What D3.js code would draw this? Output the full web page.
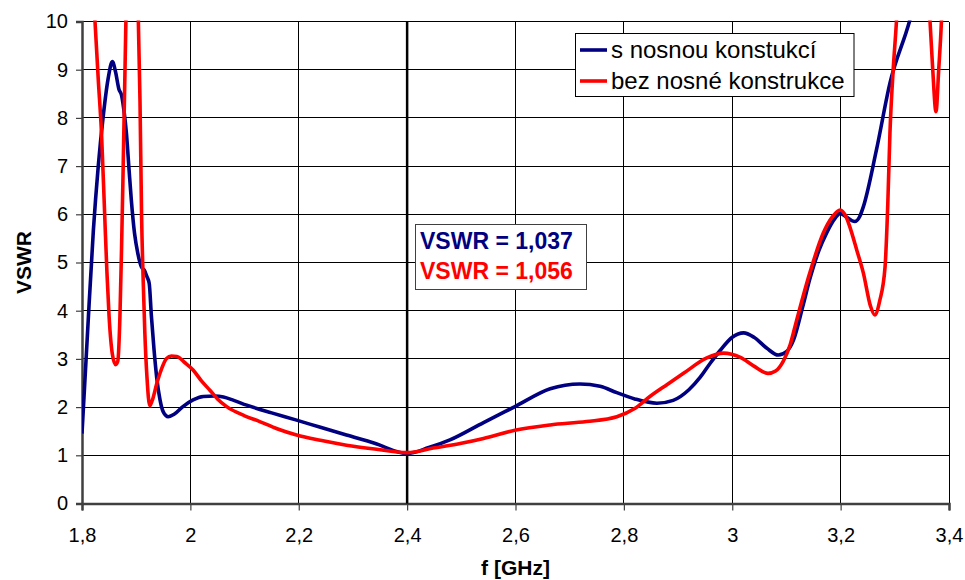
<!DOCTYPE html>
<html>
<head>
<meta charset="utf-8">
<script src="https://cdn.jsdelivr.net/npm/d3@7"></script>
<style>
  html, body { margin: 0; padding: 0; background: #fff; }
  svg { display: block; font-family: "Liberation Sans", Arial, sans-serif; }
</style>
</head>
<body>
<svg id="chart" width="965" height="580"></svg>
<script>
// ---- data ----
const xTicks = [1.8, 2.0, 2.2, 2.4, 2.6, 2.8, 3.0, 3.2, 3.4];
const xTickLabels = ["1,8", "2", "2,2", "2,4", "2,6", "2,8", "3", "3,2", "3,4"];
const yTicks = [0, 1, 2, 3, 4, 5, 6, 7, 8, 9, 10];
const seriesNames = ["s nosnou konstukcí", "bez nosné konstrukce"];
const annotationTexts = ["VSWR = 1,037", "VSWR = 1,056"];
const markerFreq = 2.4;

const blueFreq = [1.800, 1.810, 1.821, 1.830, 1.839, 1.848, 1.856, 1.862, 1.868, 1.873, 1.878, 1.882, 1.887, 1.891, 1.897, 1.903, 1.910, 1.915, 1.920, 1.924, 1.928, 1.933, 1.938, 1.944, 1.950, 1.959, 1.970, 1.985, 2.005, 2.024, 2.045, 2.061, 2.080, 2.104, 2.150, 2.196, 2.240, 2.288, 2.340, 2.400, 2.440, 2.479, 2.541, 2.599, 2.664, 2.719, 2.756, 2.787, 2.820, 2.861, 2.891, 2.920, 2.941, 2.960, 2.978, 3.000, 3.021, 3.040, 3.064, 3.085, 3.100, 3.113, 3.130, 3.143, 3.160, 3.174, 3.190, 3.199, 3.210, 3.226, 3.235, 3.242, 3.266, 3.291, 3.327, 3.360, 3.400];
const blueVswr = [1.45, 3.5, 5.67, 7.0, 8.02, 8.8, 9.17, 8.95, 8.6, 8.47, 8.1, 7.68, 6.9, 6.30, 5.6, 5.19, 4.9, 4.84, 4.7, 4.57, 3.9, 3.18, 2.6, 2.15, 1.9, 1.80, 1.85, 2.0, 2.15, 2.22, 2.23, 2.21, 2.14, 2.04, 1.88, 1.73, 1.58, 1.42, 1.25, 1.037, 1.16, 1.32, 1.68, 2.01, 2.38, 2.48, 2.43, 2.30, 2.17, 2.08, 2.14, 2.36, 2.62, 2.92, 3.18, 3.45, 3.54, 3.45, 3.22, 3.08, 3.15, 3.39, 4.08, 4.65, 5.25, 5.61, 5.92, 6.02, 5.95, 5.85, 5.95, 6.16, 7.33, 8.72, 10.0, 11.5, 13.0];

const redFreq = [1.800, 1.812, 1.824, 1.830, 1.836, 1.842, 1.846, 1.850, 1.856, 1.862, 1.866, 1.870, 1.873, 1.876, 1.881, 1.886, 1.893, 1.900, 1.904, 1.907, 1.910, 1.913, 1.916, 1.920, 1.925, 1.930, 1.938, 1.947, 1.956, 1.965, 1.975, 1.990, 2.005, 2.020, 2.036, 2.050, 2.067, 2.100, 2.128, 2.160, 2.196, 2.240, 2.288, 2.340, 2.400, 2.448, 2.500, 2.541, 2.599, 2.664, 2.731, 2.787, 2.820, 2.848, 2.880, 2.910, 2.953, 2.984, 3.015, 3.040, 3.066, 3.080, 3.094, 3.107, 3.119, 3.143, 3.168, 3.185, 3.199, 3.210, 3.217, 3.230, 3.242, 3.255, 3.263, 3.272, 3.282, 3.287, 3.291, 3.297, 3.303, 3.315, 3.335, 3.355, 3.365, 3.370, 3.376, 3.381, 3.386, 3.393, 3.400];
const redVswr = [14.5, 12.0, 10.0, 8.8, 7.68, 5.95, 4.8, 3.88, 3.1, 2.88, 2.95, 3.88, 5.3, 6.99, 10.0, 13.0, 15.0, 13.0, 10.0, 8.37, 5.95, 4.6, 3.53, 2.6, 2.03, 2.15, 2.49, 2.8, 3.01, 3.06, 3.05, 2.92, 2.77, 2.55, 2.35, 2.17, 2.01, 1.82, 1.70, 1.55, 1.42, 1.31, 1.21, 1.13, 1.056, 1.15, 1.25, 1.35, 1.52, 1.63, 1.70, 1.80, 1.97, 2.22, 2.47, 2.70, 3.02, 3.12, 3.03, 2.85, 2.70, 2.75, 2.95, 3.3, 3.81, 4.78, 5.61, 5.95, 6.09, 5.95, 5.74, 5.25, 4.78, 4.1, 3.91, 4.2, 4.91, 6.2, 7.68, 9.0, 10.0, 13.0, 15.0, 13.0, 10.0, 9.0, 8.13, 9.0, 10.0, 12.5, 14.0];

const seriesColors = ["#000080", "#FF0000"];

// ---- layout ----
const svg = d3.select("#chart");
const pLeft = 82, pRight = 949, pTop = 21.5, pBottom = 503.5;
const x = d3.scaleLinear().domain([1.8, 3.4]).range([pLeft, pRight]);
const y = d3.scaleLinear().domain([0, 10]).range([pBottom, pTop]);
const font = '"Liberation Sans", Arial, sans-serif';

// gridlines
const grid = svg.append("g");
grid.selectAll("line.h").data(yTicks).enter().append("line")
  .attr("x1", pLeft).attr("x2", pRight)
  .attr("y1", d => y(d)).attr("y2", d => y(d))
  .attr("stroke", "#000").attr("stroke-width", 1).attr("shape-rendering", "crispEdges");
grid.selectAll("line.v").data(xTicks).enter().append("line")
  .attr("y1", pTop).attr("y2", pBottom)
  .attr("x1", d => x(d)).attr("x2", d => x(d))
  .attr("stroke", "#000").attr("stroke-width", 1).attr("shape-rendering", "crispEdges");

// axes
const xAxis = d3.axisBottom(x).tickValues(xTicks).tickSize(7).tickPadding(17)
  .tickFormat((d, i) => xTickLabels[i]);
const gx = svg.append("g").attr("transform", `translate(0,${pBottom})`).call(xAxis);
const yAxis = d3.axisLeft(y).tickValues(yTicks).tickSize(6).tickPadding(8)
  .tickFormat(d => String(d));
const gy = svg.append("g").attr("transform", `translate(${pLeft},0)`).call(yAxis);
[gx, gy].forEach(g => {
  g.select(".domain").attr("stroke", "#404040").attr("stroke-width", 2.5);
  g.selectAll(".tick line").attr("stroke", "#404040").attr("stroke-width", 1.2);
  g.selectAll("text").attr("font-family", font).attr("font-size", 20).attr("fill", "#000");
});

// clip
svg.append("clipPath").attr("id", "plotclip").append("rect")
  .attr("x", pLeft).attr("y", pTop - 1).attr("width", pRight - pLeft + 2).attr("height", pBottom - pTop + 1);

// marker vertical line
svg.append("line")
  .attr("x1", x(markerFreq)).attr("x2", x(markerFreq))
  .attr("y1", pTop).attr("y2", pBottom)
  .attr("stroke", "#000").attr("stroke-width", 2.5);

// series
const line = d3.line().x(d => x(d[0])).y(d => y(d[1])).curve(d3.curveMonotoneX);
const seriesData = [
  d3.zip(blueFreq, blueVswr),
  d3.zip(redFreq, redVswr)
];
const lines = svg.append("g").attr("clip-path", "url(#plotclip)");
lines.append("path").datum(seriesData[0]).attr("d", line)
  .attr("fill", "none").attr("stroke", seriesColors[0]).attr("stroke-width", 3.6)
  .attr("stroke-linejoin", "round");
lines.append("path").datum(seriesData[1]).attr("d", line)
  .attr("fill", "none").attr("stroke", seriesColors[1]).attr("stroke-width", 3.6)
  .attr("stroke-linejoin", "round");

// legend
const lg = svg.append("g");
lg.append("rect").attr("x", 575.5).attr("y", 33.5).attr("width", 278.5).attr("height", 63)
  .attr("fill", "#fff").attr("stroke", "#000").attr("stroke-width", 1);
seriesNames.forEach((name, i) => {
  const yy = 50 + i * 31;
  lg.append("line").attr("x1", 580).attr("x2", 607).attr("y1", yy).attr("y2", yy)
    .attr("stroke", seriesColors[i]).attr("stroke-width", 3.6);
  lg.append("text").attr("x", 611).attr("y", yy + 8).text(name)
    .attr("font-family", font).attr("font-size", 24).attr("fill", "#000");
});

// annotation box
const ag = svg.append("g");
ag.append("rect").attr("x", 415.5).attr("y", 224.5).attr("width", 171).attr("height", 65)
  .attr("fill", "#fff").attr("stroke", "#404040").attr("stroke-width", 1);
annotationTexts.forEach((t, i) => {
  ag.append("text").attr("x", 420).attr("y", 249 + i * 30).text(t)
    .attr("font-family", font).attr("font-size", 23).attr("font-weight", "bold")
    .attr("fill", seriesColors[i]);
});

// axis titles
svg.append("text").attr("x", (pLeft + pRight) / 2).attr("y", 575).attr("text-anchor", "middle")
  .attr("font-family", font).attr("font-size", 21).attr("font-weight", "bold").text("f [GHz]");
svg.append("text").attr("transform", `translate(31,${(pTop + pBottom) / 2}) rotate(-90)`)
  .attr("text-anchor", "middle")
  .attr("font-family", font).attr("font-size", 21).attr("font-weight", "bold").text("VSWR");
</script>
</body>
</html>
